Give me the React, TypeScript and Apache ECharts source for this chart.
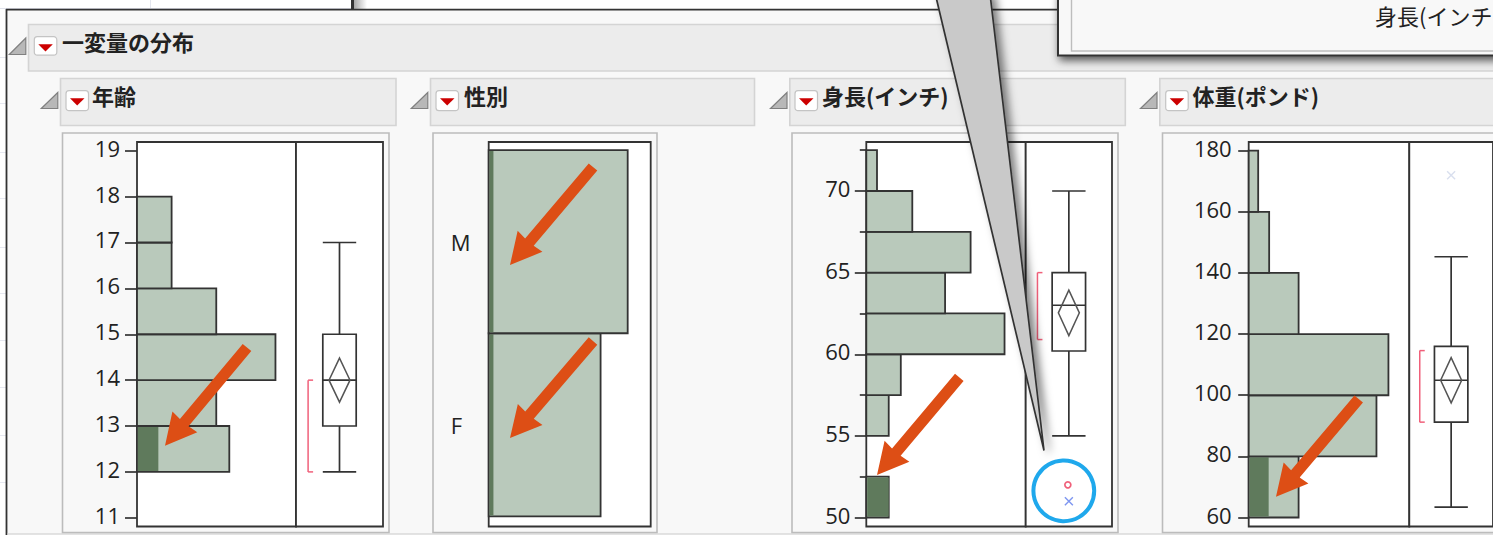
import React, { useEffect, useRef } from "react";
import * as echarts from "echarts";

// ---- data ----
const ageBins = [[12, 13], [13, 14], [14, 15], [15, 16], [16, 17], [17, 18]];
const ageCounts = [8, 6.87, 12, 6.87, 3, 3];
const ageSelected = [1.85, 0, 0, 0, 0, 0];
const ageTicks = [11, 12, 13, 14, 15, 16, 17, 18, 19];
// low, q1, median, q3, high, meanCiLow, meanCiHigh, bracketLow, bracketHigh
const ageStats = [12, 13, 14, 15, 17, 13.52, 14.48, 12, 14];

const sexBins = [[0, 1], [1, 2]];
const sexCategories = ["F", "M"];
const sexCounts = [17.75, 22.05];
const sexSelected = [0.75, 0.75];
const sexTicks = [0.5, 1.5];

const heightBins = [[50, 52.5], [55, 57.5], [57.5, 60], [60, 62.5], [62.5, 65], [65, 67.5], [67.5, 70], [70, 72.5]];
const heightCounts = [1.95, 1.95, 3, 12.02, 6.85, 9.07, 4, 0.93];
const heightSelected = [1.95, 0, 0, 0, 0, 0, 0, 0];
const heightTicks = [50, 55, 60, 65, 70];
const heightMinorTicks = [52.5, 57.5, 62.5, 67.5, 72.5];
const heightStats = [55, 60.2, 63, 65, 70, 61.14, 63.93, 60.9, 65];
const heightOutliers = [[52, 0], [51, 1]];

const weightBins = [[60, 80], [80, 100], [100, 120], [120, 140], [140, 160], [160, 180]];
const weightCounts = [5, 12.8, 14, 5, 2.05, 0.95];
const weightSelected = [2, 0, 0, 0, 0, 0];
const weightTicks = [60, 80, 100, 120, 140, 160, 180];
const weightStats = [63.4, 91.2, 104.9, 116, 145.3, 97.5, 112.3, 91.2, 114.6];
const weightOutliers = [[172, 2]];

const mainTitle = "一変量の分布";
const panelTitles = ["年齢", "性別", "身長(インチ)", "体重(ポンド)"];
const popupText = "身長(インチ)";

// ---- style ----
const INK = "#333333";
const BAR = "#b9c9bb";
const BAR_DARK = "#5f7a5c";
const RED = "#f0607a";
const MARK_COLORS = [RED, "#7d96f0", "#d9dfee"];
const ORANGE = "#dd4e15";
const CJK = '"Noto Sans CJK JP", "Noto Sans", sans-serif';
const TICK_FONT = '"Open Sans", "Noto Sans", sans-serif';
const TOP = 142;
const HEIGHT = 384.5;

function histSeries(bins: number[][], counts: number[], selected: number[], axis: number) {
  return {
    type: "custom",
    xAxisIndex: axis,
    yAxisIndex: axis,
    z: 5,
    silent: true,
    data: bins.map((b, i) => [b[0], b[1], counts[i], selected[i]]),
    renderItem: (_p: any, api: any) => {
      const a = api.coord([0, api.value(0)]);
      const b = api.coord([api.value(2), api.value(1)]);
      const c = api.coord([api.value(3), api.value(1)]);
      const children: any[] = [
        {
          type: "rect",
          shape: { x: a[0], y: b[1], width: b[0] - a[0], height: a[1] - b[1] },
          style: { fill: BAR, stroke: INK, lineWidth: 1.8 },
        },
      ];
      if (api.value(3) > 0) {
        children.push({
          type: "rect",
          shape: { x: a[0] + 0.9, y: b[1] + 0.9, width: c[0] - a[0] - 0.9, height: a[1] - b[1] - 1.8 },
          style: { fill: BAR_DARK },
        });
      }
      return { type: "group", children };
    },
  };
}

function boxSeries(stats: number[], axis: number) {
  return {
    type: "custom",
    xAxisIndex: axis,
    yAxisIndex: axis,
    z: 5,
    silent: true,
    data: [[0.5, ...stats]],
    renderItem: (_p: any, api: any) => {
      const y = (i: number) => api.coord([0.5, api.value(i + 1)])[1];
      const cx = api.coord([0.5, stats[0]])[0];
      const line = (x1: number, y1: number, x2: number, y2: number, stroke = INK, lineWidth = 1.7) => ({
        type: "line",
        shape: { x1, y1, x2, y2 },
        style: { stroke, lineWidth },
      });
      const h = 16.7;
      const d = 10.5;
      const bx = cx - 31.4;
      const mid = (y(5) + y(6)) / 2;
      return {
        type: "group",
        children: [
          line(cx, y(0), cx, y(4)),
          line(cx - h, y(0), cx + h, y(0)),
          line(cx - h, y(4), cx + h, y(4)),
          {
            type: "rect",
            shape: { x: cx - h, y: y(3), width: 2 * h, height: y(1) - y(3) },
            style: { fill: "#ffffff", stroke: INK, lineWidth: 1.7 },
          },
          line(cx - h, y(2), cx + h, y(2)),
          {
            type: "polygon",
            shape: { points: [[cx, y(6)], [cx + d, mid], [cx, y(5)], [cx - d, mid]] },
            style: { fill: "none", stroke: "#555555", lineWidth: 1.5 },
          },
          line(bx, y(7), bx, y(8), RED, 1.5),
          line(bx, y(7), bx + 5, y(7), RED, 1.5),
          line(bx, y(8), bx + 5, y(8), RED, 1.5),
        ],
      };
    },
  };
}

function outlierSeries(points: number[][], axis: number) {
  return {
    type: "custom",
    xAxisIndex: axis,
    yAxisIndex: axis,
    z: 6,
    silent: true,
    data: points.map((p) => [0.5, p[0], p[1]]),
    renderItem: (_p: any, api: any) => {
      const [x, y] = api.coord([0.5, api.value(1)]);
      const k = api.value(2);
      const stroke = MARK_COLORS[k];
      if (k === 0) {
        return { type: "circle", shape: { cx: x - 1, cy: y, r: 3 }, style: { fill: "#ffffff", stroke, lineWidth: 1.7 } };
      }
      const r = 4;
      return {
        type: "group",
        children: [
          { type: "line", shape: { x1: x - r, y1: y - r, x2: x + r, y2: y + r }, style: { stroke, lineWidth: 1.4 } },
          { type: "line", shape: { x1: x - r, y1: y + r, x2: x + r, y2: y - r }, style: { stroke, lineWidth: 1.4 } },
        ],
      };
    },
  };
}

function valueAxis(axis: number, min: number, max: number, ticks: number[] | null, margin: number, tickLen: number, extra: any = {}) {
  if (!ticks) return { type: "value", gridIndex: axis, min, max, show: false };
  return {
    type: "value",
    gridIndex: axis,
    min,
    max,
    position: "left",
    splitLine: { show: false },
    axisLine: { show: false },
    axisTick: { show: tickLen > 0, length: tickLen, customValues: ticks, lineStyle: { color: INK, width: 1.7 } },
    axisLabel: {
      show: true,
      customValues: ticks,
      margin,
      color: "#222222",
      fontFamily: TICK_FONT,
      fontSize: 22,
      verticalAlign: "bottom",
      lineHeight: 6,
      ...extra,
    },
  };
}

// ---- chrome helpers ----
const rect = (x: number, y: number, width: number, height: number, fill: string, stroke: string | null, lineWidth = 1, z = -1, more: any = {}) => ({
  type: "rect",
  z,
  silent: true,
  shape: { x, y, width, height, r: more.r || 0 },
  style: { fill, stroke: stroke || "none", lineWidth, ...(more.style || {}) },
});
const poly = (points: number[][], fill: string, stroke: string | null, lineWidth = 1, z = -1, style: any = {}) => ({
  type: "polygon",
  z,
  silent: true,
  shape: { points },
  style: { fill, stroke: stroke || "none", lineWidth, ...style },
});
const hLine = (x1: number, x2: number, y: number, stroke: string, lineWidth = 1, z = -1) => ({
  type: "line",
  z,
  silent: true,
  shape: { x1, y1: y, x2, y2: y },
  style: { stroke, lineWidth },
});
const vLine = (x: number, y1: number, y2: number, stroke: string, lineWidth = 1, z = -1) => ({
  type: "line",
  z,
  silent: true,
  shape: { x1: x, y1, x2: x, y2 },
  style: { stroke, lineWidth },
});
const label = (x: number, y: number, text: string, fontWeight: any, z = -1) => ({
  type: "text",
  z,
  silent: true,
  x,
  y,
  style: { text, fill: "#222222", font: `${fontWeight} 22px ${CJK}`, textVerticalAlign: "middle", verticalAlign: "middle" },
});

function header(x: number, y: number, w: number, h: number, title: string, triX: number, btnX: number, textX: number, big: boolean) {
  const triTop = big ? 38 : 92.5;
  const triBot = big ? 54.5 : 108.5;
  const btnTop = big ? 36.7 : 90.7;
  const btnH = big ? 18.5 : 20;
  return [
    rect(x + 0.5, y + 0.5, w, h, "#ececec", "#d4d4d4", 1.6),
    poly([[triX, triBot], [triX + 16.5, triBot], [triX + 16.5, triTop]], "#b8b8b8", "#808080", 1.2),
    rect(btnX, btnTop, 22.5, btnH, "#ffffff", "#c4c4c4", 1.2, -1, { r: 3 }),
    poly(
      [[btnX + 4, btnTop + 7.5], [btnX + 18.5, btnTop + 7.5], [btnX + 11.2, btnTop + 14.8]],
      "#cc0000",
      null
    ),
    label(textX, big ? 40.5 : 94.5, title, 700),
  ];
}

function arrow(tail: number[], tip: number[]) {
  const dx = tip[0] - tail[0];
  const dy = tip[1] - tail[1];
  const len = Math.hypot(dx, dy);
  const ux = dx / len;
  const uy = dy / len;
  const nx = -uy;
  const ny = ux;
  const at = (back: number, off: number) => [tip[0] - ux * back + nx * off, tip[1] - uy * back + ny * off];
  return poly(
    [
      [tail[0] + nx * 5.6, tail[1] + ny * 5.6],
      at(30, 5.6),
      at(31, 16.2),
      tip,
      at(31, -16.2),
      at(30, -5.6),
      [tail[0] - nx * 5.6, tail[1] - ny * 5.6],
    ],
    ORANGE,
    null,
    1,
    60
  );
}

const backdropLinesY = [57, 103, 152, 198, 247, 293, 340, 387, 435, 482];

const graphicElements: any[] = [
  // desktop behind the main window
  rect(0, 0, 1493, 535, "#ffffff", null),
  hLine(0, 351, 8.5, "#dfe1ea", 1),
  vLine(150.5, 0, 8, "#e4e6ee", 1),
  ...backdropLinesY.map((y) => hLine(0, 6, y + 0.5, "#e6e8f0", 1)),
  rect(351, 0, 3, 9, "#333333", null),
  {
    type: "rect",
    z: -1,
    silent: true,
    shape: { x: 354, y: 0, width: 13, height: 9 },
    style: {
      fill: {
        type: "linear",
        x: 0,
        y: 0,
        x2: 1,
        y2: 0,
        colorStops: [
          { offset: 0, color: "#a8a8a8" },
          { offset: 1, color: "#ffffff" },
        ],
      },
    },
  },
  // main window
  rect(6.5, 9.7, 1500, 524, "#f8f8f8", null),
  hLine(6, 1493, 9.7, INK, 1.8),
  vLine(6.5, 9, 535, INK, 1.8),
  hLine(7, 1493, 534, "#c8c8c8", 1.2),
  // headers and panels
  ...header(28, 24, 1480, 46.5, mainTitle, 9.3, 34.3, 62, true),
  ...header(60, 78, 335.5, 47, panelTitles[0], 41.3, 66, 92, false),
  ...header(430, 78, 324, 47, panelTitles[1], 411.3, 436, 464, false),
  ...header(789.3, 78, 335.5, 47, panelTitles[2], 770.5, 795, 822, false),
  ...header(1159.3, 78, 340, 47, panelTitles[3], 1140.5, 1165.7, 1192.5, false),
  rect(62.5, 133, 326.5, 399.5, "#f8f8f8", "#bcbcbc", 1.6),
  rect(433, 133, 224, 399.5, "#f8f8f8", "#bcbcbc", 1.6),
  rect(792, 133, 326, 399.5, "#f8f8f8", "#bcbcbc", 1.6),
  rect(1162.5, 133, 340, 399.5, "#f8f8f8", "#bcbcbc", 1.6),
  // pop-up window, top right
  rect(1058, -10, 460, 65.5, "#f8f8f8", INK, 2, 40, {
    style: { shadowBlur: 9, shadowOffsetX: 2, shadowOffsetY: 4, shadowColor: "rgba(0,0,0,0.65)" },
  }),
  rect(1071.5, -10, 440, 61, "#f8f8f8", "#bdbdbd", 1.4, 41),
  label(1375, 14.5, popupText, 400, 42),
  // call-out wedge
  poly([[935.3, -6], [990, -6], [1044, 450.5]], "#c9c9c9", INK, 1.7, 45, {
    shadowBlur: 9,
    shadowOffsetX: 5,
    shadowOffsetY: 2,
    shadowColor: "rgba(0,0,0,0.5)",
  }),
  // annotations
  {
    type: "circle",
    z: 60,
    silent: true,
    shape: { cx: 1063.8, cy: 490.8, r: 30.4 },
    style: { fill: "none", stroke: "#1fa8ec", lineWidth: 4 },
  },
  arrow([247, 347.5], [165, 445.7]),
  arrow([593, 167], [510, 265]),
  arrow([593, 341], [510, 438]),
  arrow([959.3, 377.3], [877, 475]),
  arrow([1358.7, 399], [1276, 496.7]),
];

const grids = [
  [137, 159],
  [296, 87],
  [488.7, 162],
  [866.3, 159.4],
  [1025.7, 86.3],
  [1248.7, 160.6],
  [1409.3, 85.5],
].map(([left, width]) => ({
  show: true,
  left,
  top: TOP,
  width,
  height: HEIGHT,
  backgroundColor: "#ffffff",
  borderColor: INK,
  borderWidth: 1.8,
  containLabel: false,
}));

const xMax = [13.78, 1, 25.7, 13.86, 1, 16.09, 1];

const option: any = {
  animation: false,
  backgroundColor: "#ffffff",
  grid: grids,
  graphic: { elements: graphicElements },
  xAxis: xMax.map((max, i) => ({ type: "value", gridIndex: i, min: 0, max, show: false })),
  yAxis: [
    valueAxis(0, 10.81, 19.19, ageTicks, 17, 12),
    valueAxis(1, 10.81, 19.19, null, 0, 0),
    valueAxis(2, -0.055, 2.044, sexTicks, 38, 0, {
      align: "left",
      verticalAlign: "middle",
      lineHeight: 22,
      formatter: (v: number) => sexCategories[Math.floor(v)],
    }),
    valueAxis(3, 49.45, 73, heightTicks, 16, 11.5),
    valueAxis(4, 49.45, 73, null, 0, 0),
    valueAxis(5, 57.06, 182.84, weightTicks, 17, 10.5),
    valueAxis(6, 57.06, 182.84, null, 0, 0),
    {
      ...valueAxis(3, 49.45, 73, heightMinorTicks, 16, 6.5),
      axisLabel: { show: false },
    },
  ],
  series: [
    histSeries(ageBins, ageCounts, ageSelected, 0),
    boxSeries(ageStats, 1),
    histSeries(sexBins, sexCounts, sexSelected, 2),
    histSeries(heightBins, heightCounts, heightSelected, 3),
    boxSeries(heightStats, 4),
    outlierSeries(heightOutliers, 4),
    histSeries(weightBins, weightCounts, weightSelected, 5),
    boxSeries(weightStats, 6),
    outlierSeries(weightOutliers, 6),
  ],
};

export default function App() {
  const ref = useRef<HTMLDivElement>(null);
  useEffect(() => {
    document.body.style.margin = "0";
    const chart = echarts.init(ref.current as HTMLDivElement, undefined, { renderer: "svg" });
    chart.setOption(option);
    return () => chart.dispose();
  }, []);
  return <div ref={ref} style={{ width: 1493, height: 535, overflow: "hidden" }} />;
}
